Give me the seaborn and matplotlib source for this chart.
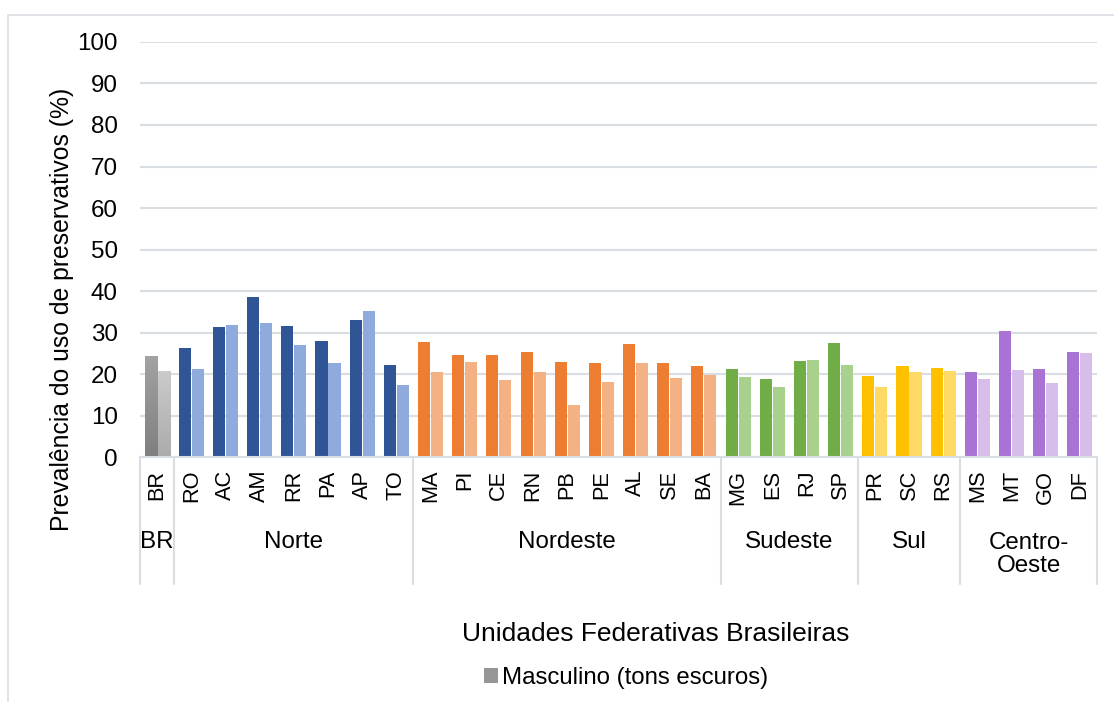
import numpy as np
import pandas as pd
import matplotlib
matplotlib.use("Agg")
import matplotlib.pyplot as plt
import matplotlib.patches as mpatches
import seaborn as sns

# Dados: prevalência do uso de preservativos (%) por UF e sexo
estados = ["BR", "RO", "AC", "AM", "RR", "PA", "AP", "TO",
           "MA", "PI", "CE", "RN", "PB", "PE", "AL", "SE", "BA",
           "MG", "ES", "RJ", "SP", "PR", "SC", "RS", "MS", "MT", "GO", "DF"]
regioes = (["BR"] + ["Norte"] * 7 + ["Nordeste"] * 9 + ["Sudeste"] * 4
           + ["Sul"] * 3 + ["Centro-Oeste"] * 4)
masculino = [24.4, 26.3, 31.3, 38.5, 31.6, 28.0, 33.0, 22.2,
             27.7, 24.6, 24.6, 25.3, 22.9, 22.7, 27.2, 22.7, 22.0,
             21.2, 18.8, 23.1, 27.5, 19.6, 22.0, 21.5, 20.5, 30.4, 21.2, 25.3]
feminino = [20.7, 21.2, 31.8, 32.3, 27.0, 22.7, 35.2, 17.4,
            20.5, 22.9, 18.6, 20.5, 12.7, 18.1, 22.7, 19.1, 19.8,
            19.3, 16.9, 23.4, 22.2, 16.9, 20.5, 20.8, 18.8, 21.0, 17.8, 25.1]
nomes_regioes = ["BR", "Norte", "Nordeste", "Sudeste", "Sul", "Centro-\nOeste"]

# cores (escuro = masculino, claro = feminino)
cores = {
    "BR": ("#8F8F8F", "#BDBDBD"),
    "Norte": ("#2F5597", "#8FAADC"),
    "Nordeste": ("#ED7D31", "#F4B183"),
    "Sudeste": ("#70AD47", "#A9D18E"),
    "Sul": ("#FFC000", "#FFD966"),
    "Centro-Oeste": ("#A873D5", "#D6BDEA"),
}
cinza_linha = "#D9DEE5"

df = pd.DataFrame({
    "UF": estados * 2,
    "Sexo": ["Masculino"] * len(estados) + ["Feminino"] * len(estados),
    "valor": masculino + feminino,
})

sns.set_style("white")
plt.rcParams["font.family"] = ["Liberation Sans", "DejaVu Sans"]
plt.rcParams["text.color"] = "black"

fig = plt.figure(figsize=(11.14, 7.02), dpi=100)
ax = fig.add_axes([140 / 1114, 244.7 / 702, 957 / 1114, 415.4 / 702])

sns.barplot(data=df, x="UF", y="valor", hue="Sexo", order=estados,
            hue_order=["Masculino", "Feminino"], width=0.76, gap=0.07,
            linewidth=0, legend=False, ax=ax)

# recolorir barras por região
for k, cont in enumerate(ax.containers):
    for i, barra in enumerate(cont):
        barra.set_facecolor(cores[regioes[i]][k])

# gradiente nas barras do BR
for k, (c_top, c_bot) in enumerate([("#A3A3A3", "#7F7F7F"), ("#CBCBCB", "#ABABAB")]):
    barra = ax.containers[k][0]
    x0, w = barra.get_x(), barra.get_width()
    h = barra.get_height()
    cmap = matplotlib.colors.LinearSegmentedColormap.from_list("g", [c_bot, c_top])
    grad = np.linspace(0, 1, 256).reshape(-1, 1)
    im = ax.imshow(grad, cmap=cmap, aspect="auto", origin="lower",
                   extent=(x0, x0 + w, 0, h), zorder=barra.get_zorder() + 0.1)
    im.set_clip_path(barra)

ax.set_xlim(-0.5, len(estados) - 0.5)
ax.set_ylim(0, 100)
ax.set_yticks(range(0, 101, 10))
ax.yaxis.grid(True, color=cinza_linha, lw=1.5)
ax.set_axisbelow(True)
for s in ["top", "right", "left"]:
    ax.spines[s].set_visible(False)
ax.spines["bottom"].set_color(cinza_linha)
ax.spines["bottom"].set_linewidth(1.5)
ax.tick_params(axis="y", length=0, pad=16, labelsize=17.4, colors="black")
ax.tick_params(axis="x", length=0, pad=9, labelsize=15.7, rotation=90, colors="black")
ax.set_xlabel("")
ax.set_ylabel("")

# separadores e rótulos de região
trans = ax.get_xaxis_transform()
limites = [-0.5, 0.5, 7.5, 16.5, 20.5, 23.5, 27.5]
for xb in limites:
    ax.plot([xb, xb], [0, -0.305], transform=trans, color=cinza_linha,
            lw=1.5, clip_on=False)
for j, nome in enumerate(nomes_regioes):
    xc = (limites[j] + limites[j + 1]) / 2
    yc = -0.204 if "\n" not in nome else -0.235
    ax.text(xc, yc, nome, transform=trans, ha="center", va="center",
            fontsize=17.4, linespacing=1.05)

# títulos dos eixos
fig.text(62 / 1114, 1 - 309 / 702, "Prevalência do uso de preservativos (%)",
         rotation=90, ha="center", va="center", fontsize=17.8)
fig.text(656 / 1114, 1 - 634 / 702, "Unidades Federativas Brasileiras",
         ha="center", va="center", fontsize=19)

# legenda
marca = mpatches.Patch(facecolor="#969696", edgecolor="none")
fig.legend([marca], ["Masculino (tons escuros)"], loc="center",
           bbox_to_anchor=(626 / 1114, 1 - 678 / 702), frameon=False,
           fontsize=17.3, handlelength=0.6, handleheight=0.6,
           handletextpad=0.15, borderpad=0)

# moldura externa
fig.patches.append(mpatches.Rectangle((8 / 1114, -0.02), 1.05, 0.02 + 1 - 14.7 / 702,
                                      transform=fig.transFigure, fill=False,
                                      edgecolor=cinza_linha, lw=1.2))

fig.savefig("out.png", dpi=100)
